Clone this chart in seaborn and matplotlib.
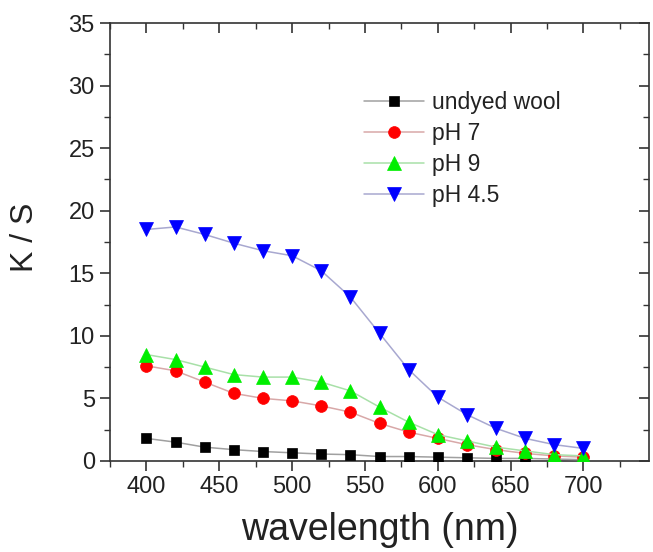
import matplotlib
matplotlib.use("Agg")
import matplotlib.pyplot as plt
import seaborn as sns
import pandas as pd
from matplotlib.ticker import MultipleLocator

wavelength = [400, 420, 440, 460, 480, 500, 520, 540, 560, 580, 600, 620, 640, 660, 680, 700]
undyed_wool = [1.8, 1.5, 1.1, 0.9, 0.75, 0.65, 0.55, 0.5, 0.35, 0.35, 0.3, 0.25, 0.2, 0.2, 0.15, 0.1]
ph7 = [7.6, 7.2, 6.3, 5.4, 5.0, 4.8, 4.4, 3.9, 3.0, 2.3, 1.8, 1.3, 0.9, 0.6, 0.4, 0.3]
ph9 = [8.5, 8.1, 7.5, 6.9, 6.7, 6.7, 6.3, 5.6, 4.3, 3.1, 2.1, 1.6, 1.1, 0.8, 0.5, 0.4]
ph45 = [18.5, 18.7, 18.1, 17.4, 16.8, 16.4, 15.2, 13.1, 10.2, 7.3, 5.1, 3.7, 2.6, 1.8, 1.3, 1.0]

series_names = ["undyed wool", "pH 7", "pH 9", "pH 4.5"]
series_values = [undyed_wool, ph7, ph9, ph45]

sns.set_theme(style="ticks")
plt.rcParams['font.family'] = ['Liberation Sans', 'DejaVu Sans']

fig = plt.figure(figsize=(6.53, 5.52), dpi=100)
ax = fig.add_axes([0.1685, 0.165, 0.9939 - 0.1685, 0.9583 - 0.165])

styles = [
    dict(marker='s', mc='#000000', lc='#a0a0a0', ms=7.5),
    dict(marker='o', mc='#ff0000', lc='#d8a8a8', ms=8.5),
    dict(marker='^', mc='#00ee00', lc='#a8e0a8', ms=9.5),
    dict(marker='v', mc='#0000ff', lc='#a8a8d0', ms=9.5),
]

for name, vals, st in zip(series_names, series_values, styles):
    df = pd.DataFrame({"wavelength": wavelength, "KS": vals})
    sns.lineplot(data=df, x="wavelength", y="KS", ax=ax, color=st['lc'],
                 linewidth=1.1, marker=st['marker'], markersize=st['ms'],
                 markerfacecolor=st['mc'], markeredgecolor=st['mc'],
                 markeredgewidth=0.5, label=name, zorder=3)

ax.set_xlim(375, 745)
ax.set_ylim(0, 35)
ax.xaxis.set_major_locator(MultipleLocator(50))
ax.xaxis.set_minor_locator(MultipleLocator(25))
ax.yaxis.set_major_locator(MultipleLocator(5))
ax.yaxis.set_minor_locator(MultipleLocator(2.5))

for sp in ax.spines.values():
    sp.set_visible(True)
    sp.set_color('#333333')
    sp.set_linewidth(1.2)

ax.tick_params(axis='both', which='major', direction='out', length=7, width=1.2,
               color='#333333', labelsize=17, labelcolor='#222222', pad=4)
ax.tick_params(axis='both', which='minor', direction='out', length=4, width=1.0, color='#333333')
ax.tick_params(axis='both', which='both', top=True, right=True)
# top/right ticks pointing inward
for t in ax.xaxis.get_major_ticks() + ax.xaxis.get_minor_ticks():
    t.tick2line.set_marker(3)
for t in ax.yaxis.get_major_ticks() + ax.yaxis.get_minor_ticks():
    t.tick2line.set_marker(0)

ax.set_xlabel("wavelength (nm)", fontsize=27, color='#222222', labelpad=10)
ax.set_ylabel("K / S", fontsize=23, color='#222222')
ax.yaxis.set_label_coords(-0.13, 0.51)

leg = ax.legend(loc='upper left', bbox_to_anchor=(0.455, 0.865), frameon=False,
                fontsize=16.5, handlelength=2.6, handletextpad=0.35, labelspacing=0.35,
                borderaxespad=0)
for txt in leg.get_texts():
    txt.set_color('#222222')

fig.savefig("out.png", dpi=100)
